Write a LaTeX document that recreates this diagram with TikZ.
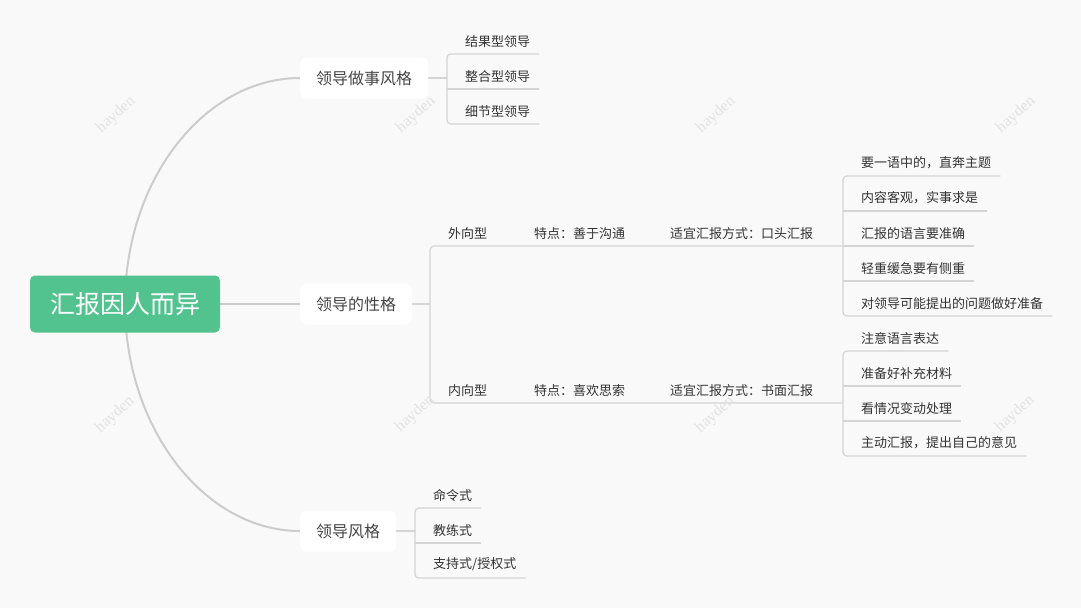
\documentclass[tikz,border=0pt]{standalone}
\usepackage{fontspec}
\newfontfamily\cjk{Noto Sans CJK SC}
\newfontfamily\wmfont{Liberation Serif}
\definecolor{bgc}{HTML}{F9F9F9}
\definecolor{rootc}{HTML}{52C38F}
\definecolor{lnmain}{HTML}{CCCCCC}
\definecolor{lnsub}{HTML}{D4D4D4}
\definecolor{txtone}{HTML}{444444}
\definecolor{txtleaf}{HTML}{333333}
\definecolor{wmc}{HTML}{E2E2E2}
\pgfdeclarelayer{bgl}
\pgfdeclarelayer{edges}
\pgfsetlayers{bgl,edges,main}
\begin{document}
\begin{tikzpicture}[x=1pt,y=-1pt,
  rootbox/.style={fill=rootc, rounded corners=5pt, text=white,
    font=\cjk\fontsize{25}{30}\selectfont, minimum width=190pt,
    minimum height=57pt, inner sep=0pt},
  onebox/.style={fill=white, rounded corners=6pt, text=txtone, anchor=west,
    font=\cjk\fontsize{16}{19}\selectfont, minimum height=41pt,
    inner xsep=16pt, inner ysep=0pt},
  leaf/.style={anchor=south west, text=txtleaf,
    font=\cjk\fontsize{13}{16}\selectfont, inner xsep=0pt, inner ysep=6.5pt,
    execute at begin node={\hspace*{18pt}}, execute at end node={\hspace*{9pt}}},
  rowtext/.style={anchor=south west, text=txtleaf,
    font=\cjk\fontsize{13}{16}\selectfont, inner xsep=0pt, inner ysep=6.5pt},
  mainline/.style={draw=lnmain, line width=2pt},
  subline/.style={draw=lnsub, line width=1.2pt},
  bracket/.style={subline, rounded corners=4pt},
  wmark/.style={rotate=42, text=wmc, font=\wmfont\fontsize{16}{18}\selectfont}]
\begin{pgfonlayer}{bgl}
\fill[bgc] (0,0) rectangle (1081,608);
\end{pgfonlayer}
\useasboundingbox (0,0) rectangle (1081,608);

% watermarks
\foreach \wx/\wy [count=\i] in {116/115,416/115,716/115,1016/115,115/415,415/414,715/415,1015/414}
  \node[wmark] (wm\i) at (\wx,\wy) {hayden};

% root and first level
\node[rootbox] (root) at (125,304) {汇报因人而异};
\node[onebox] (la) at (300,78) {领导做事风格};
\node[onebox] (lb) at (300,304) {领导的性格};
\node[onebox] (lc) at (300,531) {领导风格};

% group A
\node[leaf] (a1) at (447,54) {结果型领导};
\node[leaf] (a2) at (447,89) {整合型领导};
\node[leaf] (a3) at (447,124) {细节型领导};

% group B
\node[leaf] (b1) at (430,246) {外向型};
\node[rowtext] (b1t) at (534,246) {特点：善于沟通};
\node[rowtext] (b1m) at (670,246) {适宜汇报方式：口头汇报};
\node[leaf] (b2) at (430,403) {内向型};
\node[rowtext] (b2t) at (534,403) {特点：喜欢思索};
\node[rowtext] (b2m) at (670,403) {适宜汇报方式：书面汇报};

% group C
\node[leaf] (c1) at (843,176) {要一语中的，直奔主题};
\node[leaf] (c2) at (843,211) {内容客观，实事求是};
\node[leaf] (c3) at (843,246) {汇报的语言要准确};
\node[leaf] (c4) at (843,281) {轻重缓急要有侧重};
\node[leaf] (c5) at (843,316) {对领导可能提出的问题做好准备};

% group D
\node[leaf] (d1) at (843,351) {注意语言表达};
\node[leaf] (d2) at (843,386) {准备好补充材料};
\node[leaf] (d3) at (843,421) {看情况变动处理};
\node[leaf] (d4) at (843,456) {主动汇报，提出自己的意见};
\coordinate (dj) at (d1.south west |- b2.south west);

% group E
\node[leaf] (e1) at (415,508) {命令式};
\node[leaf] (e2) at (415,543) {教练式};
\node[leaf] (e3) at (415,578) {支持式/授权式};

\begin{pgfonlayer}{edges}
% root connectors
\draw[mainline] (root.center) .. controls (125,179) and (205,78) .. (la.west);
\draw[mainline] (root.center) -- (lb.west);
\draw[mainline] (root.center) .. controls (125,429) and (205,531) .. (lc.west);

% group A
\draw[subline] (la.east) -- (la.east -| a1.south west);
\draw[bracket] (a1.south east) -- (a1.south west) -- (a3.south west) -- (a3.south east);
\draw[subline] (a2.south west) -- (a2.south east);

% group B
\draw[subline] (lb.east) -- (lb.east -| b1.south west);
\draw[bracket] (c3.south west) -- (b1.south west) -- (b2.south west) -- (dj);

% group C
\draw[bracket] (c1.south east) -- (c1.south west) -- (c5.south west) -- (c5.south east);
\draw[subline] (c2.south west) -- (c2.south east);
\draw[subline] (c3.south west) -- (c3.south east);
\draw[subline] (c4.south west) -- (c4.south east);

% group D
\draw[bracket] (d1.south east) -- (d1.south west) -- (d4.south west) -- (d4.south east);
\draw[subline] (d2.south west) -- (d2.south east);
\draw[subline] (d3.south west) -- (d3.south east);

% group E
\draw[subline] (lc.east) -- (lc.east -| e1.south west);
\draw[bracket] (e1.south east) -- (e1.south west) -- (e3.south west) -- (e3.south east);
\draw[subline] (e2.south west) -- (e2.south east);
\end{pgfonlayer}
\end{tikzpicture}
\end{document}
